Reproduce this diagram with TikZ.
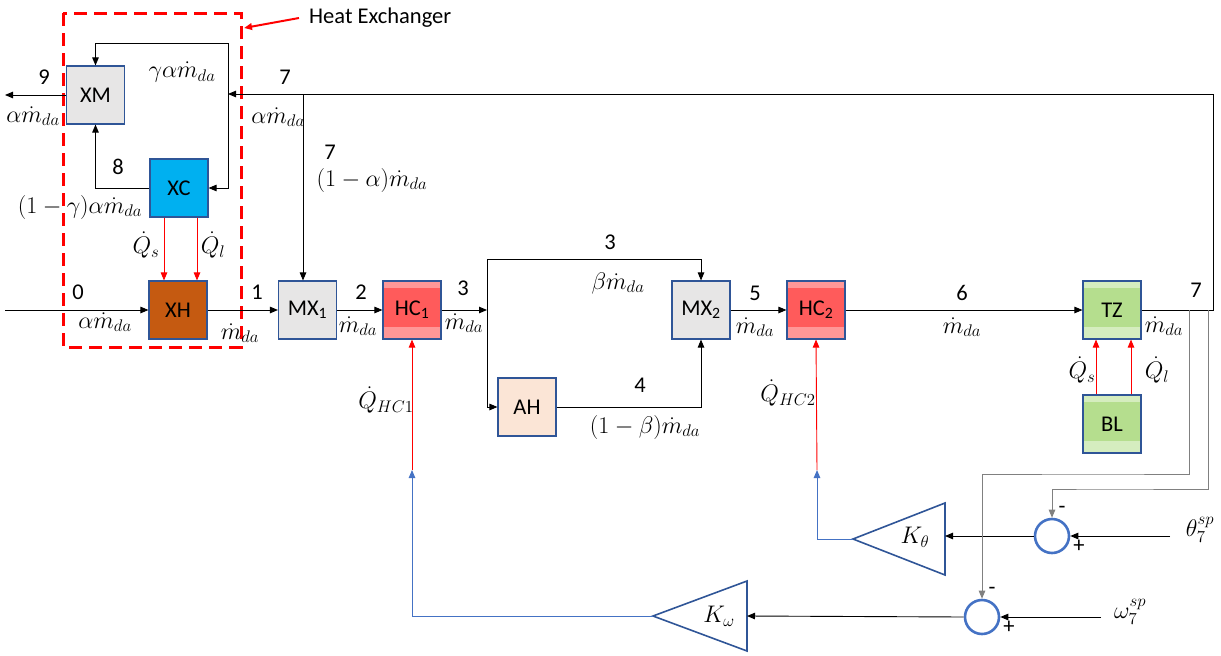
\RequirePackage{fix-cm}
\documentclass[tikz,border=0pt]{standalone}
\usepackage{amsmath}
\usepackage{fontspec}
\setmainfont{Carlito}
\usetikzlibrary{arrows.meta}
\definecolor{edge}{HTML}{2F5597}
\definecolor{mxgrey}{HTML}{E7E6E6}
\definecolor{xcblue}{HTML}{00B0F0}
\definecolor{xhbrown}{HTML}{C55A11}
\definecolor{hcred}{HTML}{FF5B5B}
\definecolor{hcband}{HTML}{FF9797}
\definecolor{ahpeach}{HTML}{FBE5D6}
\definecolor{tzgreen}{HTML}{B5DE8E}
\definecolor{tzband}{HTML}{D5EDBF}
\definecolor{ctlblue}{HTML}{4472C4}
\definecolor{fbgrey}{HTML}{808080}
\tikzset{
  lbl/.style={font=\fontsize{22.5}{27}\selectfont, inner sep=0pt},
  mlbl/.style={font=\fontsize{24}{29}\selectfont, inner sep=0pt},
  blk/.style={draw=edge, line width=1.1pt, minimum size=58pt, inner sep=0pt, lbl},
  banded/.style 2 args={blk, fill=#1, path picture={
      \fill[#2] (path picture bounding box.north west) rectangle ([yshift=-7pt]path picture bounding box.north east);
      \fill[#2] (path picture bounding box.south west) rectangle ([yshift=12pt]path picture bounding box.south east);}},
  hcbox/.style={banded={hcred}{hcband}},
  tzbox/.style={banded={tzgreen}{tzband}},
  sumc/.style={circle, draw=ctlblue, line width=2.6pt, minimum size=34pt, inner sep=0pt},
  gain/.style={draw=edge, line width=1.6pt},
  tip/.style={-{Triangle[length=8pt,width=6.5pt]}},
  flow/.style={line width=0.9pt, tip},
  heat/.style={red, line width=0.9pt, tip},
  ctl/.style={ctlblue, line width=0.9pt},
  fb/.style={fbgrey, line width=0.9pt},
  hxbox/.style={red, line width=3pt, dash pattern=on 13pt off 7pt}
}
\begin{document}
\begin{tikzpicture}[x=1pt,y=-1pt]
\useasboundingbox (0,0) rectangle (1221,656);
% process blocks
\node[blk, fill=mxgrey] (xm) at (95.5,95) {XM};
\node[blk, fill=xcblue] (xc) at (179,188) {XC};
\node[blk, fill=xhbrown] (xh) at (178,310) {XH};
\node[blk, fill=mxgrey] (mx1) at (307.5,310) {MX\textsubscript{1}};
\node[hcbox] (hc1) at (412,310) {HC\textsubscript{1}};
\node[blk, fill=ahpeach] (ah) at (527,407) {AH};
\node[blk, fill=mxgrey] (mx2) at (701,310) {MX\textsubscript{2}};
\node[hcbox] (hc2) at (816,310) {HC\textsubscript{2}};
\node[tzbox] (tz) at (1112,310) {TZ};
\node[tzbox] (bl) at (1112,424) {BL};
% heat exchanger frame
\draw[hxbox] (63,13) rectangle (241,347);
\node[lbl, anchor=west] (hxl) at (309,18) {Heat Exchanger};
\draw[red, line width=2pt, tip] ([xshift=-10pt]hxl.west) -- (244,28);
% junction points
\coordinate (in0) at (5,310);
\coordinate (out9) at (5,95);
\coordinate (sp3) at (487,310);
\coordinate (up3) at (487,259);
\coordinate (ret) at (1213,310);
\coordinate (ret7) at (1213,94);
\coordinate (xj) at (228,94);
\coordinate (xtop) at (228,43);
\coordinate (jb) at (303,94);
% main flow
\draw[flow] (in0) -- (xh);
\draw[flow] (xh) -- (mx1);
\draw[flow] (mx1) -- (hc1);
\draw[flow] (hc1) -- (sp3);
\draw[flow] (sp3) -- (up3) -| (mx2.north);
\draw[flow] (sp3) |- (ah.west);
\draw[flow] (ah.east) -| (mx2.south);
\draw[flow] (mx2) -- (hc2);
\draw[flow] (hc2) -- (tz);
\draw[flow] (tz.east) -- (ret) -- (ret7) -- (xj);
\draw[flow] (jb) -- (jb |- mx1.north);
\draw[flow] (xj) -- (xtop) -| (xm.north);
\draw[flow] (xj) |- (xc.east);
\draw[flow] (xc.west) -| (xm.south);
\draw[flow] (xm.west) -- (out9);
% heat gains
\draw[heat] ([xshift=-15pt]xc.south) -- ([xshift=-14pt]xh.north);
\draw[heat] ([xshift=18pt]xc.south) -- ([xshift=19pt]xh.north);
\draw[heat] ([xshift=-16pt]bl.north) -- ([xshift=-16pt]tz.south);
\draw[heat] ([xshift=19pt]bl.north) -- ([xshift=19pt]tz.south);
% control loop
\node[sumc] (s1) at (1052,536) {};
\node[sumc] (s2) at (982,617) {};
\coordinate (ktA) at (853,539);
\coordinate (ktB) at (945,539);
\coordinate (kwA) at (653,616);
\coordinate (kwB) at (747,616);
\draw[gain] (ktA) -- (945,503) -- (945,575) -- cycle;
\draw[gain] (kwA) -- (747,581) -- (747,651) -- cycle;
\coordinate (q1) at (412,470);
\coordinate (q2) at (817,470);
\coordinate (sp1) at (1170,536);
\coordinate (sp2) at (1101,617);
\draw[flow] (sp1) -- (s1.east);
\draw[flow] (sp2) -- (s2.east);
\draw[flow] (s1.west) -- (s1.west -| ktB);
\draw[flow] (s2.west) -- (kwB);
\draw[ctl, tip] (ktA) -| (q2);
\draw[ctl, tip] (kwA) -| (q1);
\draw[heat] (q2) -- (hc2.south);
\draw[heat] (q1) -- (hc1.south);
\draw[fb, tip] (1189,310) |- (1100,474) -| (s2.north);
\draw[fb, tip] (1208,310) |- (1100,489) -| (s1.north);
% labels
\node[lbl] (n0) at (78,292) {0};
\node[mlbl] (m0) at (105,322) {$\alpha\dot m_{da}$};
\node[lbl] (n9) at (44,77) {9};
\node[mlbl] (m9) at (33,116) {$\alpha\dot m_{da}$};
\node[lbl] (n8) at (118,167) {8};
\node[mlbl] (m8) at (80,207) {$(1-\gamma)\alpha\dot m_{da}$};
\node[mlbl] (mg) at (182,72) {$\gamma\alpha\dot m_{da}$};
\node[lbl] (n7a) at (285,77) {7};
\node[mlbl] (m7a) at (278,117) {$\alpha\dot m_{da}$};
\node[lbl] (n7b) at (330,152) {7};
\node[mlbl] (m7b) at (372,180) {$(1-\alpha)\dot m_{da}$};
\node[mlbl] (qs1) at (146,245) {$\dot Q_s$};
\node[mlbl] (ql1) at (213,245) {$\dot Q_l$};
\node[lbl] (n1) at (257,292) {1};
\node[mlbl] (m1) at (240,333) {$\dot m_{da}$};
\node[lbl] (n2) at (361,292) {2};
\node[mlbl] (m2) at (358,326) {$\dot m_{da}$};
\node[lbl] (n3a) at (463,288) {3};
\node[mlbl] (m3a) at (464,323) {$\dot m_{da}$};
\node[lbl] (n3b) at (610,242) {3};
\node[mlbl] (m3b) at (618,283) {$\beta\dot m_{da}$};
\node[lbl] (n4) at (640,385) {4};
\node[mlbl] (m4) at (645,427) {$(1-\beta)\dot m_{da}$};
\node[lbl] (n5) at (755,293) {5};
\node[mlbl] (m5) at (755,327) {$\dot m_{da}$};
\node[lbl] (n6) at (962,293) {6};
\node[mlbl] (m6) at (962,327) {$\dot m_{da}$};
\node[lbl] (n7c) at (1196,290) {7};
\node[mlbl] (m7c) at (1164,326) {$\dot m_{da}$};
\node[mlbl] (qs2) at (1082,370) {$\dot Q_s$};
\node[mlbl] (ql2) at (1157,370) {$\dot Q_l$};
\node[mlbl] (qh1) at (386,400) {$\dot Q_{HC1}$};
\node[mlbl] (qh2) at (788,393) {$\dot Q_{HC2}$};
\node[mlbl] (kt) at (915,537) {$K_\theta$};
\node[mlbl] (kw) at (719,616) {$K_\omega$};
\node[mlbl] (th) at (1200,530) {$\theta_7^{sp}$};
\node[mlbl] (om) at (1130,612) {$\omega_7^{sp}$};
\node[lbl] (mi1) at (1062,510) {-};
\node[lbl] (pl1) at (1079,546) {+};
\node[lbl] (mi2) at (992,591) {-};
\node[lbl] (pl2) at (1009,627) {+};
\end{tikzpicture}
\end{document}
